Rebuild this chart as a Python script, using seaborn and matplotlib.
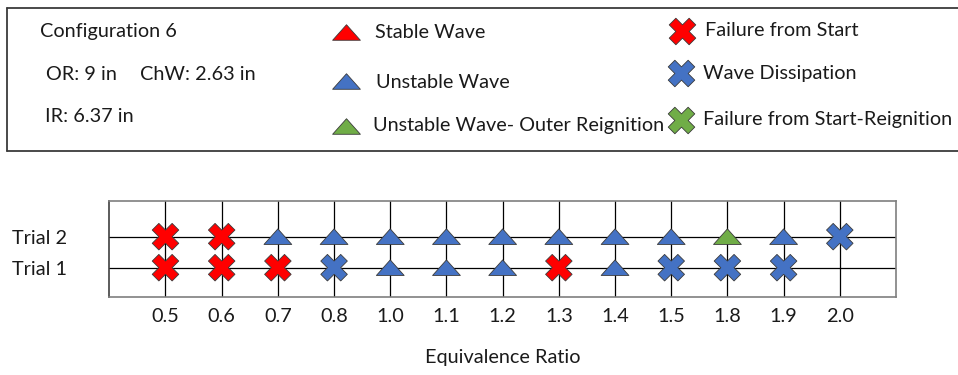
import numpy as np
import pandas as pd
import matplotlib
matplotlib.use("Agg")
import matplotlib.pyplot as plt
import seaborn as sns
from matplotlib.path import Path

# ---------------- data ----------------
categories = ["0.5", "0.6", "0.7", "0.8", "1.0", "1.1", "1.2", "1.3", "1.4", "1.5", "1.8", "1.9", "2.0"]
trial_names = ["Trial 1", "Trial 2"]
trial1_outcome = ["Failure from Start", "Failure from Start", "Failure from Start", "Wave Dissipation",
                  "Unstable Wave", "Unstable Wave", "Unstable Wave", "Failure from Start",
                  "Unstable Wave", "Wave Dissipation", "Wave Dissipation", "Wave Dissipation", None]
trial2_outcome = ["Failure from Start", "Failure from Start", "Unstable Wave", "Unstable Wave",
                  "Unstable Wave", "Unstable Wave", "Unstable Wave", "Unstable Wave",
                  "Unstable Wave", "Unstable Wave", "Unstable Wave- Outer Reignition",
                  "Unstable Wave", "Wave Dissipation"]
outcome_labels = ["Stable Wave", "Unstable Wave", "Unstable Wave- Outer Reignition",
                  "Failure from Start", "Wave Dissipation", "Failure from Start-Reignition"]
config_title = "Configuration 6"
config_params = ["OR: 9 in", "ChW: 2.63 in", "IR: 6.37 in"]
x_label = "Equivalence Ratio"

# ---------------- styles ----------------
RED, BLUE, GREEN = "#FF0000", "#4472C4", "#70AD47"
tri = Path([(-1, -0.56), (1, -0.56), (0, 0.56), (-1, -0.56)],
           [Path.MOVETO, Path.LINETO, Path.LINETO, Path.CLOSEPOLY])
palette = dict(zip(outcome_labels, [RED, BLUE, GREEN, RED, BLUE, GREEN]))
markers = dict(zip(outcome_labels, [tri, tri, tri, "X", "X", "X"]))
TRI_S, X_S = 400, 365
msizes = dict(zip(outcome_labels, [TRI_S] * 3 + [X_S] * 3))

rows = []
for tname, outs in zip(trial_names, [trial1_outcome, trial2_outcome]):
    for cat, o in zip(categories, outs):
        if o is not None:
            rows.append({"ratio": cat, "trial": tname, "outcome": o})
df = pd.DataFrame(rows)

sns.set_theme(style="white")
plt.rcParams["font.family"] = ["Lato", "DejaVu Sans"]
FS = 14.3
TXT = "#1a1a1a"

W, H = 958, 375
fig = plt.figure(figsize=(W / 100, H / 100), dpi=100)

# overlay for the info box
ov = fig.add_axes([0, 0, 1, 1])
ov.set_xlim(0, W)
ov.set_ylim(H, 0)
ov.axis("off")
ov.patch.set_alpha(0)
bc = "#3a3a3a"
ov.plot([7.5, 960], [7.5, 7.5], color=bc, lw=1.3)
ov.plot([7.5, 960], [151, 151], color=bc, lw=1.3)
ov.plot([7.5, 7.5], [7.5, 151], color=bc, lw=1.3)

ov.text(40, 31, config_title, fontsize=FS, va="center", ha="left", color=TXT)
ov.text(46, 75, config_params[0], fontsize=FS, va="center", ha="left", color=TXT)
ov.text(140, 75, config_params[1], fontsize=FS, va="center", ha="left", color=TXT)
ov.text(45, 116, config_params[2], fontsize=FS, va="center", ha="left", color=TXT)

leg_items = [
    (346, 32, 375, 32, outcome_labels[0]),
    (346, 81, 376, 83, outcome_labels[1]),
    (346, 126, 373, 126, outcome_labels[2]),
    (682, 31, 705, 31, outcome_labels[3]),
    (681, 73, 703, 73, outcome_labels[4]),
    (681, 120, 703, 120, outcome_labels[5]),
]
for mx, my, tx, ty, lab in leg_items:
    ov.scatter([mx], [my], marker=markers[lab], s=msizes[lab], color=palette[lab],
               edgecolor="#3a3a3a", linewidth=0.6)
    ov.text(tx, ty, lab, fontsize=FS, va="center", ha="left", color=TXT)

# main axes
left, right, top, bottom = 109.3, 896, 201, 297
ax = fig.add_axes([left / W, (H - bottom) / H, (right - left) / W, (bottom - top) / H])
sns.scatterplot(data=df, x="ratio", y="trial", hue="outcome", style="outcome",
                size="outcome", sizes=msizes,
                palette=palette, markers=markers, edgecolor="#3a3a3a",
                linewidth=0.6, legend=False, ax=ax, zorder=3)
ax.set_xlim(-1, len(categories))
ax.set_ylim(-0.945, 2.15)
ax.grid(True, color="black", lw=0.9, zorder=0)
ax.set_axisbelow(True)
for s in ax.spines.values():
    s.set_color("#7f7f7f")
    s.set_linewidth(1.2)
ax.spines["left"].set_color("#404040")
ax.tick_params(axis="both", length=0, labelsize=FS, colors=TXT)
ax.tick_params(axis="x", pad=8)
ax.tick_params(axis="y", pad=50)
for lab in ax.get_yticklabels():
    lab.set_ha("center")
ax.set_ylabel("")
ax.set_xlabel(x_label, fontsize=FS, color=TXT, va="center")
ax.xaxis.set_label_coords(0.5, (bottom - 357) / (bottom - top))

fig.savefig("out.png", dpi=100)
